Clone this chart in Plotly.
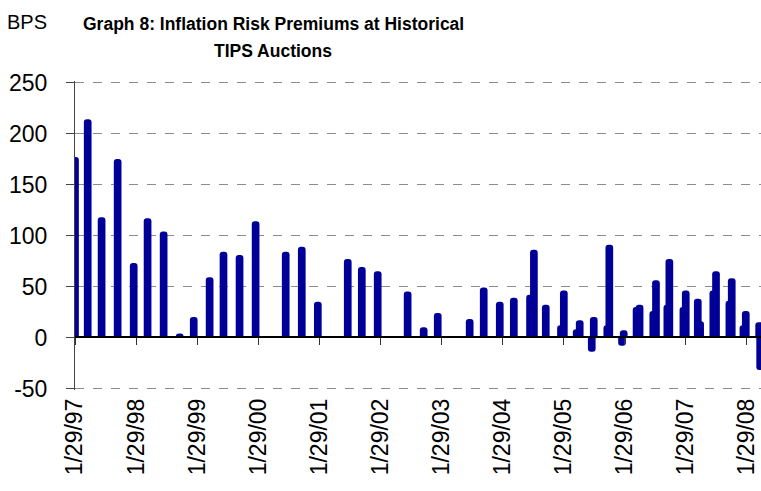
import plotly.graph_objects as go

auction_dates = [
    "1997-01-29", "1997-04-15", "1997-07-07", "1997-10-11", "1998-01-15", "1998-04-08",
    "1998-07-13", "1998-10-17", "1999-01-09", "1999-04-14", "1999-07-06", "1999-10-10",
    "2000-01-14", "2000-07-12", "2000-10-16", "2001-01-20", "2001-07-18", "2001-10-10",
    "2002-01-13", "2002-07-11", "2002-10-15", "2003-01-07", "2003-07-17", "2003-10-09",
    "2004-01-13", "2004-04-06", "2004-07-12", "2004-08-04", "2004-10-14", "2005-01-13",
    "2005-01-30", "2005-04-17", "2005-05-05", "2005-07-16", "2005-07-28", "2005-10-17",
    "2005-10-29", "2006-01-13", "2006-01-23", "2006-04-10", "2006-04-28", "2006-07-19",
    "2006-08-04", "2006-10-11", "2006-10-23", "2007-01-15", "2007-01-29", "2007-04-11",
    "2007-04-25", "2007-07-13", "2007-07-29", "2007-10-17", "2007-10-31", "2008-01-09",
    "2008-01-23", "2008-04-12", "2008-04-18",
]
premium_bps = [
    177, 214, 118, 175, 73, 117,
    104, 4, 20, 59, 84, 81,
    114, 84, 89, 35, 77, 69,
    65, 45, 10, 24, 18, 49,
    35, 39, 42, 86, 32, 12,
    46, 8, 17, -14, 20, 12,
    91, -8, 7, 30, 32, 26,
    56, 32, 77, 30, 46, 38,
    16, 46, 65, 36, 58, 12,
    26, 15, -32,
]
tick_dates = ["1997-01-29", "1998-01-29", "1999-01-29", "2000-01-29", "2001-01-29", "2002-01-29",
              "2003-01-29", "2004-01-29", "2005-01-29", "2006-01-29", "2007-01-29", "2008-01-29"]
tick_labels = ["1/29/97", "1/29/98", "1/29/99", "1/29/00", "1/29/01", "1/29/02",
               "1/29/03", "1/29/04", "1/29/05", "1/29/06", "1/29/07", "1/29/08"]
y_ticks = [-50, 0, 50, 100, 150, 200, 250]

x_range = ["1997-01-29", "2008-04-23"]
y_range = [-51.5, 251.5]
bar_width_ms = 46 * 86400000
FONT = "Liberation Sans, Arial, sans-serif"

L, T, B = 75, 81, 101
PW, PH = 761 - L, 491 - T - B
zero_pos = (0 - y_range[0]) / (y_range[1] - y_range[0])

def py(pixel_y):
    return (491 - B - pixel_y) / PH

fig = go.Figure()
fig.add_trace(go.Bar(
    x=auction_dates, y=premium_bps, width=[bar_width_ms] * len(auction_dates),
    marker=dict(color="#000099", line=dict(width=0), cornerradius=3),
    showlegend=False, xaxis="x", yaxis="y",
))
fig.add_trace(go.Scatter(x=x_range, y=[None, None], xaxis="x2", yaxis="y",
                         showlegend=False, hoverinfo="skip", mode="lines"))

fig.update_layout(
    width=761, height=491,
    margin=dict(l=L, r=0, t=T, b=B, autoexpand=False),
    paper_bgcolor="white", plot_bgcolor="white",
    font=dict(family=FONT, color="black"),
    xaxis=dict(
        type="date", range=x_range, tickvals=tick_dates, ticktext=tick_labels,
        tickangle=-90, tickfont=dict(size=23), showgrid=False, showline=False,
        zeroline=False, ticks="", automargin=False, ticklabelstandoff=3,
    ),
    xaxis2=dict(
        type="date", range=x_range, overlaying="x", anchor="free", position=zero_pos,
        tickvals=tick_dates, showticklabels=False, showline=True, linecolor="black",
        linewidth=1.5, ticks="outside", ticklen=7, tickcolor="#333", showgrid=False,
        zeroline=False, automargin=False,
    ),
    yaxis=dict(
        range=y_range, tickvals=y_ticks, ticktext=[str(v) for v in y_ticks],
        tickfont=dict(size=23), showgrid=True, gridcolor="#8c8c8c", griddash="dash",
        gridwidth=1, showline=True, linecolor="#444", linewidth=1,
        ticks="outside", ticklen=8, tickcolor="#444", zeroline=False,
        ticklabelstandoff=14, automargin=False,
    ),
    annotations=[
        dict(
            text="BPS", xref="paper", yref="paper", x=(5 - L) / PW, y=py(22),
            xanchor="left", yanchor="middle", showarrow=False,
            font=dict(family=FONT, size=20, color="black"),
        ),
        dict(
            text="<b>Graph 8: Inflation Risk Premiums at Historical</b>",
            xref="paper", yref="paper", x=(273 - L) / PW, y=py(24),
            xanchor="center", yanchor="middle", showarrow=False,
            font=dict(family=FONT, size=17.5, color="black"),
        ),
        dict(
            text="<b>TIPS Auctions</b>",
            xref="paper", yref="paper", x=(273 - L) / PW, y=py(51),
            xanchor="center", yanchor="middle", showarrow=False,
            font=dict(family=FONT, size=17.5, color="black"),
        ),
    ],
)

fig.write_html("out.html", config={"displayModeBar": False},
               post_script="document.body.style.margin='0';")
